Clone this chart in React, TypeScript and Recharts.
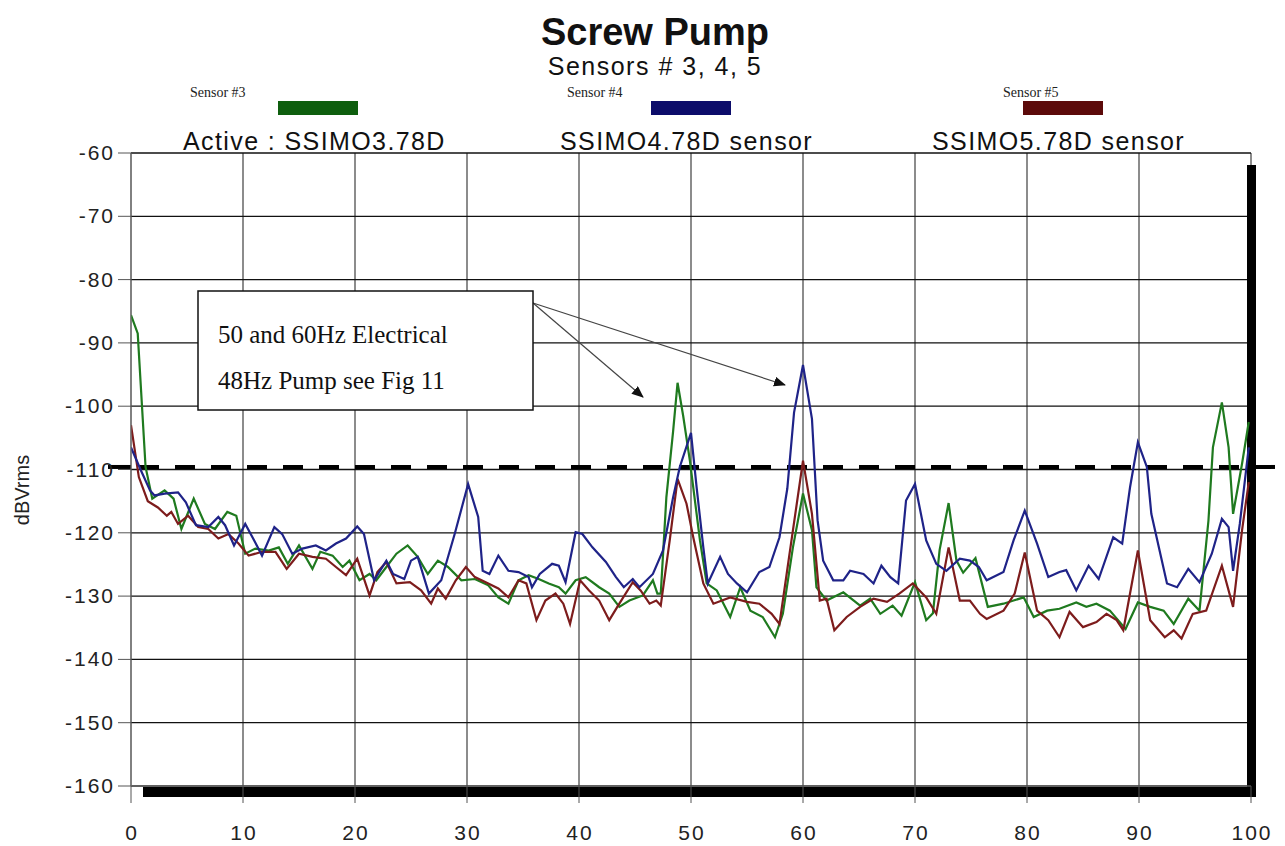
import React from 'react';
import { LineChart, Line, XAxis, YAxis, CartesianGrid, ReferenceLine } from 'recharts';

// frequency ticks (Hz) and level ticks (dBVrms)
const xTicks = [0, 10, 20, 30, 40, 50, 60, 70, 80, 90, 100];
const yTicks = [-160, -150, -140, -130, -120, -110, -100, -90, -80, -70, -60];
const alarmLevel = -109.6;

// Sensor #3 (green)
const s3Freq = [0, 0.6, 1.3, 1.9, 3.0, 3.8, 4.5, 5.6, 6.6, 7.5, 8.6, 9.4, 10.2, 11.1, 12.3, 13.2, 14.0, 15.0, 16.2, 16.9, 18.0, 18.9, 19.5, 20.4, 21.3, 21.9, 22.8, 23.7, 24.7, 25.6, 26.5, 27.4, 28.3, 29.5, 30.7, 31.9, 32.8, 33.7, 34.6, 35.5, 36.4, 37.3, 38.2, 38.8, 39.7, 40.6, 41.8, 42.7, 43.6, 44.5, 45.7, 46.6, 47.0, 47.3, 47.8, 48.4, 48.8, 49.3, 49.9, 50.8, 51.4, 52.3, 53.5, 54.4, 55.3, 56.4, 57.5, 58.2, 59.1, 60.0, 60.8, 61.2, 62.1, 63.6, 65.1, 66.0, 66.9, 68.0, 68.8, 70.0, 71.0, 71.6, 72.2, 73.0, 73.7, 74.3, 75.4, 76.5, 77.9, 78.8, 79.7, 80.6, 81.8, 82.9, 84.4, 85.3, 86.2, 87.4, 88.8, 89.9, 91.0, 92.2, 93.1, 94.4, 95.4, 96.2, 96.6, 97.4, 98.0, 98.4, 99.2, 99.8];
const s3Db = [-85.6, -88.5, -109.6, -114.6, -113.3, -114.6, -119.4, -114.6, -118.6, -119.4, -116.7, -117.3, -123.3, -122.5, -122.8, -122.3, -124.9, -122.0, -125.7, -123.0, -123.6, -125.4, -124.4, -127.5, -126.5, -127.5, -125.4, -123.3, -122.0, -123.8, -126.5, -124.4, -125.4, -127.5, -127.3, -128.3, -130.2, -131.2, -127.5, -126.7, -127.3, -128.0, -128.6, -129.6, -127.5, -127.0, -128.6, -129.6, -131.7, -130.7, -129.9, -127.5, -129.6, -129.6, -114.4, -104.0, -96.3, -101.5, -108.6, -121.2, -128.0, -129.1, -133.3, -128.6, -132.3, -133.3, -136.5, -132.8, -122.3, -113.8, -119.6, -128.6, -130.7, -129.4, -131.5, -130.4, -132.8, -131.5, -133.1, -127.8, -133.8, -132.7, -122.7, -115.3, -124.4, -126.3, -124.0, -131.7, -131.2, -130.7, -130.2, -133.3, -132.3, -132.0, -131.0, -131.7, -131.2, -132.3, -135.2, -131.0, -131.7, -132.3, -134.4, -130.4, -132.3, -118.1, -106.5, -99.4, -106.5, -117.0, -109.1, -102.5];

// Sensor #4 (blue)
const s4Freq = [0, 0.9, 1.7, 2.1, 3.0, 4.2, 4.9, 5.8, 6.9, 7.8, 8.4, 9.2, 10.2, 11.0, 11.7, 12.8, 13.5, 14.4, 15.3, 16.5, 17.4, 18.3, 19.2, 20.2, 20.8, 21.7, 22.8, 23.4, 24.4, 25.0, 25.6, 26.6, 27.7, 28.9, 30.1, 31.0, 31.4, 32.0, 32.8, 33.7, 34.6, 35.5, 35.8, 36.5, 37.6, 38.2, 38.8, 39.7, 40.3, 41.2, 42.4, 43.3, 44.0, 44.8, 45.4, 46.6, 47.5, 48.4, 49.0, 50.0, 50.5, 51.1, 51.5, 52.6, 53.3, 54.1, 55.0, 56.1, 57.0, 57.9, 58.6, 59.2, 60.0, 60.8, 61.3, 61.8, 62.7, 63.6, 64.2, 65.4, 66.3, 67.0, 67.8, 68.5, 69.2, 70.0, 71.0, 71.9, 72.8, 74.0, 74.9, 75.7, 76.4, 77.9, 78.8, 79.8, 80.9, 81.9, 82.9, 83.5, 84.4, 85.5, 86.4, 87.7, 88.5, 89.2, 89.9, 90.7, 91.1, 92.5, 93.4, 94.4, 95.4, 96.5, 97.4, 98.0, 98.4, 99.0, 99.8];
const s4Db = [-106.5, -110.2, -113.3, -114.1, -113.8, -113.6, -115.2, -118.8, -119.1, -117.5, -118.8, -122.0, -118.6, -121.2, -123.6, -119.1, -120.2, -123.3, -122.5, -122.0, -122.8, -121.7, -120.9, -119.0, -120.2, -127.5, -124.4, -126.5, -127.3, -124.4, -123.8, -129.6, -127.5, -120.2, -112.3, -117.5, -126.0, -126.5, -123.6, -126.0, -126.2, -127.0, -128.6, -126.5, -124.9, -125.2, -127.8, -119.9, -120.2, -122.3, -124.6, -127.0, -128.6, -127.3, -128.6, -126.5, -122.8, -114.4, -109.6, -104.2, -112.8, -122.3, -128.0, -123.8, -126.5, -128.0, -129.4, -126.2, -125.4, -120.7, -113.0, -101.0, -93.5, -102.0, -118.0, -124.4, -127.5, -127.5, -126.0, -126.5, -128.0, -125.2, -127.0, -128.0, -114.9, -112.3, -121.2, -124.9, -126.0, -124.1, -124.4, -125.4, -127.5, -126.2, -121.2, -116.5, -121.7, -127.0, -126.2, -125.9, -129.1, -125.2, -127.3, -120.7, -121.7, -112.8, -105.7, -109.6, -117.0, -128.0, -128.6, -125.7, -127.8, -123.3, -117.8, -119.1, -126.0, -118.6, -106.5];

// Sensor #5 (maroon)
const s5Freq = [0, 0.7, 1.5, 2.4, 3.2, 3.6, 4.2, 5.1, 6.0, 6.9, 7.8, 8.7, 9.6, 10.5, 11.7, 12.9, 13.9, 15.0, 16.2, 17.4, 18.3, 19.2, 20.2, 21.3, 22.0, 22.8, 23.7, 24.9, 25.9, 26.8, 27.4, 28.1, 29.0, 29.9, 30.7, 31.9, 32.8, 33.7, 34.6, 35.3, 36.2, 37.0, 37.9, 38.6, 39.2, 40.1, 40.9, 41.8, 42.7, 43.6, 44.8, 45.5, 46.3, 46.9, 47.3, 48.1, 48.8, 49.6, 50.2, 51.1, 52.0, 53.5, 55.0, 56.1, 57.2, 57.9, 58.8, 60.0, 60.8, 61.5, 62.1, 62.8, 63.9, 65.1, 66.3, 67.5, 68.6, 69.8, 71.0, 71.9, 73.0, 74.0, 74.9, 75.8, 76.4, 77.9, 78.9, 79.8, 80.9, 81.9, 82.9, 83.8, 85.0, 86.2, 87.1, 88.0, 88.6, 89.9, 91.0, 92.3, 93.1, 93.8, 94.8, 96.0, 97.4, 98.4, 99.2, 99.8];
const s5Db = [-103.0, -111.2, -115.0, -116.0, -117.3, -116.7, -118.6, -117.3, -119.1, -119.4, -120.9, -120.2, -121.7, -123.6, -123.0, -123.0, -125.7, -123.3, -123.8, -124.1, -125.4, -126.7, -124.1, -129.9, -126.2, -124.6, -128.0, -127.8, -129.1, -131.2, -128.8, -130.4, -127.5, -125.4, -127.0, -128.0, -128.8, -130.2, -127.5, -128.0, -133.8, -130.7, -129.6, -131.2, -134.4, -127.5, -129.1, -130.7, -133.8, -131.2, -127.8, -129.1, -131.2, -130.7, -131.5, -121.2, -111.5, -115.4, -120.7, -128.0, -131.2, -130.2, -130.9, -131.2, -132.8, -134.4, -123.3, -108.6, -117.0, -130.7, -130.4, -135.4, -133.3, -131.7, -130.4, -130.9, -129.6, -128.0, -130.2, -132.8, -122.3, -130.7, -130.7, -132.8, -133.6, -132.3, -129.6, -123.1, -132.3, -133.8, -136.5, -132.5, -134.9, -134.1, -132.8, -133.8, -135.4, -122.8, -133.8, -136.5, -135.4, -136.7, -132.8, -132.3, -125.2, -131.7, -119.6, -112.0];

const toRows = (freq: number[], db: number[]) => freq.map((f, i) => ({ f, db: db[i] }));

const sans = 'Liberation Sans, Arial, sans-serif';
const serif = 'Liberation Serif, Times New Roman, serif';

const YTick = ({ x, y, payload }: any) => (
  <text x={x + 2} y={y} dy={7} textAnchor="end" fontSize={21} fill="#222" fontFamily={sans} style={{ letterSpacing: 2 }}>
    {payload.value}
  </text>
);

const XTick = ({ x, y, payload }: any) => (
  <text x={x + 1} y={y} dy={33} textAnchor="middle" fontSize={21} fill="#222" fontFamily={sans} style={{ letterSpacing: 2 }}>
    {payload.value}
  </text>
);

// drop-shadow style bars on the right and bottom edges of the plot
const RightBar = (p: any) => {
  const top = Math.min(p.y1, p.y2);
  const bottom = Math.max(p.y1, p.y2);
  return <rect x={p.x1 - 4} y={top + 12} width={9} height={bottom - top - 1} fill="#000" />;
};

const BottomBar = (p: any) => {
  const left = Math.min(p.x1, p.x2);
  const right = Math.max(p.x1, p.x2);
  return <rect x={left + 12} y={p.y1 + 1} width={right - left - 7} height={10} fill="#000" />;
};

const AlarmLine = (p: any) => {
  const left = Math.min(p.x1, p.x2);
  const right = Math.max(p.x1, p.x2);
  return (
    <g>
      <line x1={left - 23} x2={left} y1={p.y1} y2={p.y1} stroke="#000" strokeWidth={4} />
      <line x1={left + 8} x2={right + 34} y1={p.y1} y2={p.y1} stroke="#000" strokeWidth={4} strokeDasharray="20 16" />
    </g>
  );
};

export default function App() {
  return (
    <div style={{ position: 'relative', width: 1277, height: 838 }}>
      <LineChart width={1277} height={838} margin={{ top: 145, right: 34, bottom: 10, left: 0 }}>
        <CartesianGrid horizontal={false} stroke="#666" strokeWidth={1.5} />
        <CartesianGrid vertical={false} stroke="#111" strokeWidth={1.3} />
        <XAxis
          type="number"
          dataKey="f"
          domain={[0, 100]}
          ticks={xTicks}
          allowDataOverflow
          height={50}
          tickSize={17}
          tickMargin={4}
          tick={<XTick />}
          stroke="#777"
          tickLine={{ stroke: '#555' }}
        />
        <YAxis
          type="number"
          domain={[-160, -60]}
          ticks={yTicks}
          allowDataOverflow
          width={123}
          tickSize={13}
          tickMargin={5}
          tick={<YTick />}
          stroke="#777"
          tickLine={{ stroke: '#555' }}
        />
        <ReferenceLine x={100} stroke="#000" shape={RightBar} />
        <ReferenceLine y={-160} stroke="#000" shape={BottomBar} />
        <ReferenceLine y={alarmLevel} stroke="#000" shape={AlarmLine} />
        <Line data={toRows(s3Freq, s3Db)} dataKey="db" stroke="#1f7a1f" strokeWidth={2.2} dot={false} isAnimationActive={false} />
        <Line data={toRows(s5Freq, s5Db)} dataKey="db" stroke="#7d1c1c" strokeWidth={2.2} dot={false} isAnimationActive={false} />
        <Line data={toRows(s4Freq, s4Db)} dataKey="db" stroke="#1f2388" strokeWidth={2.2} dot={false} isAnimationActive={false} />
      </LineChart>
      <svg
        width={1285}
        height={846}
        style={{ position: 'absolute', left: -8, top: -8, pointerEvents: 'none' }}
      >
        <defs>
          <marker id="ah" markerWidth="12" markerHeight="10" refX="11" refY="5" orient="auto" markerUnits="userSpaceOnUse">
            <path d="M0,0 L12,5 L0,10 z" fill="#111" />
          </marker>
        </defs>
        <text x={655} y={45} textAnchor="middle" fontSize={38} fontWeight="bold" fontFamily={sans} fill="#111">
          Screw Pump
        </text>
        <text x={655} y={75} textAnchor="middle" fontSize={25} fontFamily={sans} fill="#111" style={{ letterSpacing: 1.5 }}>
          Sensors # 3, 4, 5
        </text>

        <text x={190} y={97} fontSize={14} fontFamily={serif} fill="#222">Sensor #3</text>
        <rect x={278} y={101} width={80} height={14} fill="#0e5e0e" />
        <text x={567} y={97} fontSize={14} fontFamily={serif} fill="#222">Sensor #4</text>
        <rect x={651} y={101} width={80} height={14} fill="#0c0c6a" />
        <text x={1003} y={97} fontSize={14} fontFamily={serif} fill="#222">Sensor #5</text>
        <rect x={1023} y={101} width={80} height={14} fill="#5c0a0a" />

        <text x={183} y={150} fontSize={25} fontFamily={sans} fill="#111" style={{ letterSpacing: 1.4 }}>Active : SSIMO3.78D</text>
        <text x={560} y={150} fontSize={25} fontFamily={sans} fill="#111" style={{ letterSpacing: 1.4 }}>SSIMO4.78D sensor</text>
        <text x={932} y={150} fontSize={25} fontFamily={sans} fill="#111" style={{ letterSpacing: 1.4 }}>SSIMO5.78D sensor</text>

        <text x={29} y={490} transform="rotate(-90 29 490)" textAnchor="middle" fontSize={20} fontFamily={sans} fill="#222">
          dBVrms
        </text>

        <line x1={533} y1={303} x2={643} y2={397} stroke="#444" strokeWidth={1.2} markerEnd="url(#ah)" />
        <line x1={533} y1={303} x2={785} y2={385} stroke="#444" strokeWidth={1.2} markerEnd="url(#ah)" />
        <rect x={198} y={291} width={335} height={119} fill="#fff" stroke="#111" strokeWidth={1.5} />
        <text x={218} y={343} fontSize={25} fontFamily={serif} fill="#111">50 and 60Hz Electrical</text>
        <text x={218} y={389} fontSize={25} fontFamily={serif} fill="#111">48Hz Pump see Fig 11</text>
      </svg>
    </div>
  );
}
